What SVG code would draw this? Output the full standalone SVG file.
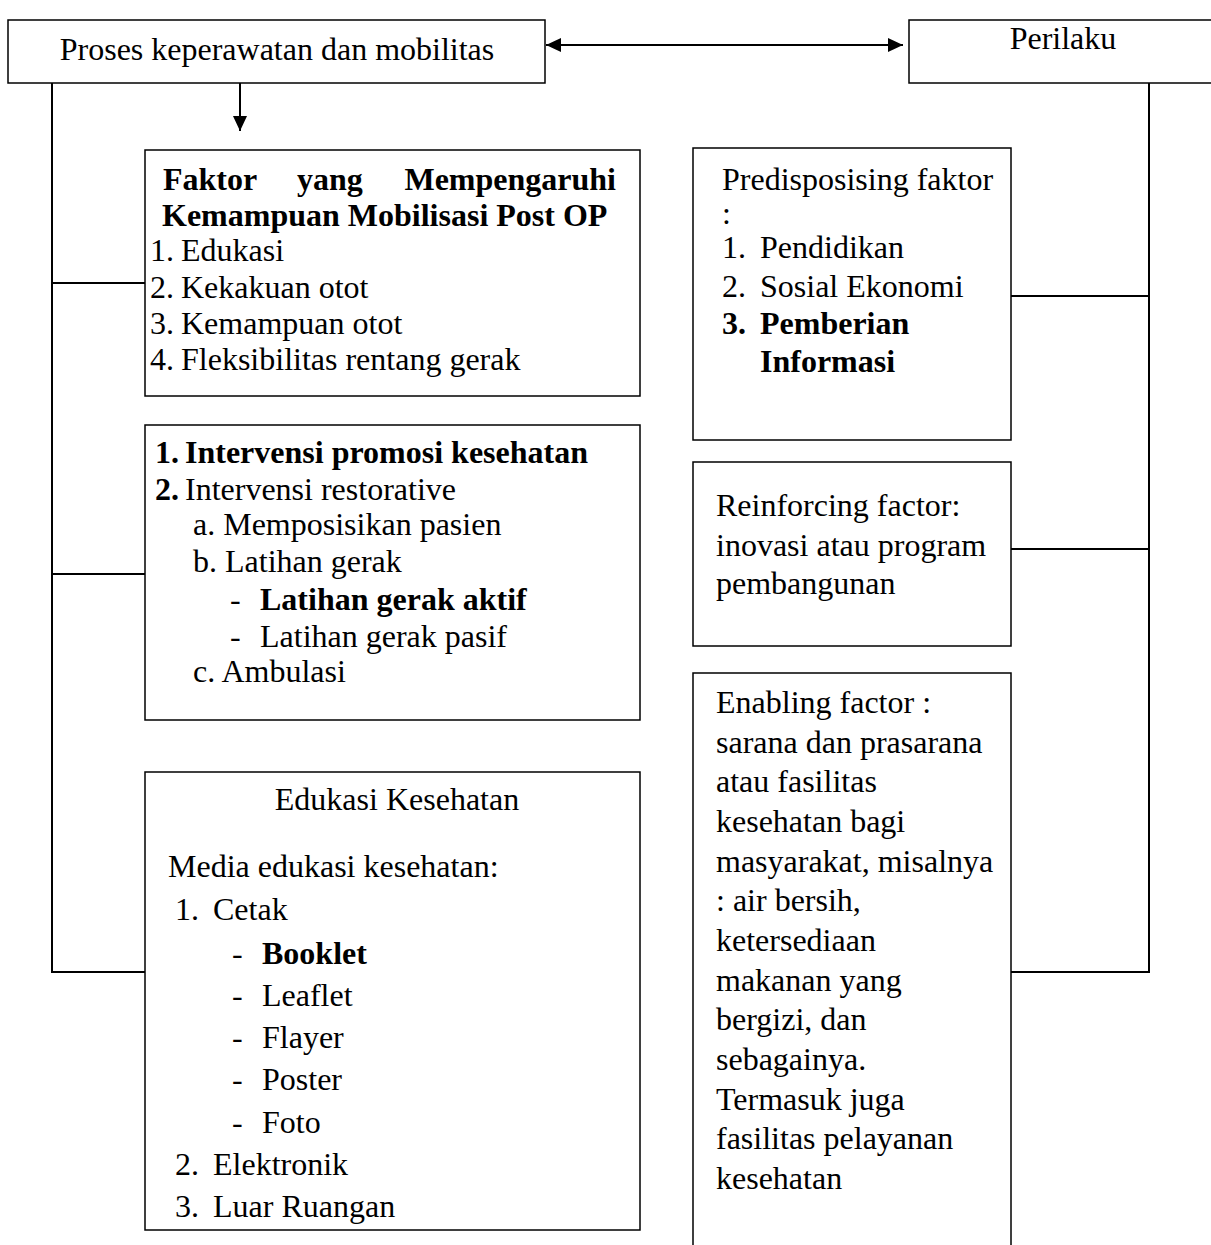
<svg xmlns="http://www.w3.org/2000/svg" width="1211" height="1245" viewBox="0 0 1211 1245">
<defs>
<style>
.box{fill:#fff;stroke:#000;stroke-width:1.5}
.t{font-family:"Liberation Serif","Times New Roman",serif;font-size:32px;fill:#000}
.b{font-weight:bold}
.c{fill:none;stroke:#000;stroke-width:2}
</style>
<marker id="ah" viewBox="0 0 15 14" refX="15" refY="7" markerWidth="15" markerHeight="14" markerUnits="userSpaceOnUse" orient="auto-start-reverse">
<path d="M0,0 L15,7 L0,14 z" fill="#000"/>
</marker>
</defs>
<rect width="1211" height="1245" fill="#fff"/>
<g id="connectors">
<line class="c" x1="546" y1="45" x2="903" y2="45" marker-start="url(#ah)" marker-end="url(#ah)"/>
<line class="c" x1="240" y1="83" x2="240" y2="131" marker-end="url(#ah)"/>
<path class="c" d="M52,83 V972 H145 M52,283 H145 M52,574 H145"/>
<path class="c" d="M1149,83 V972 H1011 M1011,296 H1149 M1011,549 H1149"/>
</g>
<g id="proses">
<rect class="box" x="8" y="20" width="537" height="63"/>
<text class="t" x="277" y="60" text-anchor="middle">Proses keperawatan dan mobilitas</text>
</g>
<g id="perilaku">
<rect class="box" x="909" y="20" width="320" height="63"/>
<text class="t" x="1063" y="49" text-anchor="middle">Perilaku</text>
</g>
<g id="faktor">
<rect class="box" x="145" y="150" width="495" height="246"/>
<text class="t b" x="163" y="190">Faktor</text>
<text class="t b" x="297" y="190">yang</text>
<text class="t b" x="616" y="190" text-anchor="end">Mempengaruhi</text>
<text class="t b" x="162" y="226">Kemampuan Mobilisasi Post OP</text>
<text class="t" x="150" y="261">1.</text><text class="t" x="181" y="261">Edukasi</text>
<text class="t" x="150" y="298">2.</text><text class="t" x="181" y="298">Kekakuan otot</text>
<text class="t" x="150" y="334">3.</text><text class="t" x="181" y="334">Kemampuan otot</text>
<text class="t" x="150" y="370">4.</text><text class="t" x="181" y="370">Fleksibilitas rentang gerak</text>
</g>
<g id="intervensi">
<rect class="box" x="145" y="425" width="495" height="295"/>
<text class="t b" x="155" y="463">1.</text><text class="t b" x="185" y="463">Intervensi promosi kesehatan</text>
<text class="t b" x="155" y="500">2.</text><text class="t" x="185" y="500">Intervensi restorative</text>
<text class="t" x="193" y="535">a. Memposisikan pasien</text>
<text class="t" x="193" y="572">b. Latihan gerak</text>
<text class="t" x="230" y="610">-</text><text class="t b" x="260" y="610">Latihan gerak aktif</text>
<text class="t" x="230" y="647">-</text><text class="t" x="260" y="647">Latihan gerak pasif</text>
<text class="t" x="193" y="682">c. Ambulasi</text>
</g>
<g id="edukasi">
<rect class="box" x="145" y="772" width="495" height="458"/>
<text class="t" x="397" y="810" text-anchor="middle">Edukasi Kesehatan</text>
<text class="t" x="168" y="877">Media edukasi kesehatan:</text>
<text class="t" x="175" y="920">1.</text><text class="t" x="213" y="920">Cetak</text>
<text class="t" x="232" y="964">-</text><text class="t b" x="262" y="964">Booklet</text>
<text class="t" x="232" y="1006">-</text><text class="t" x="262" y="1006">Leaflet</text>
<text class="t" x="232" y="1048">-</text><text class="t" x="262" y="1048">Flayer</text>
<text class="t" x="232" y="1090">-</text><text class="t" x="262" y="1090">Poster</text>
<text class="t" x="232" y="1133">-</text><text class="t" x="262" y="1133">Foto</text>
<text class="t" x="175" y="1175">2.</text><text class="t" x="213" y="1175">Elektronik</text>
<text class="t" x="175" y="1217">3.</text><text class="t" x="213" y="1217">Luar Ruangan</text>
</g>
<g id="predisposing">
<rect class="box" x="693" y="148" width="318" height="292"/>
<text class="t" x="722" y="190">Predisposising faktor</text>
<text class="t" x="722" y="224">:</text>
<text class="t" x="722" y="258">1.</text><text class="t" x="760" y="258">Pendidikan</text>
<text class="t" x="722" y="297">2.</text><text class="t" x="760" y="297">Sosial Ekonomi</text>
<text class="t b" x="722" y="334">3.</text><text class="t b" x="760" y="334">Pemberian</text>
<text class="t b" x="760" y="372">Informasi</text>
</g>
<g id="reinforcing">
<rect class="box" x="693" y="462" width="318" height="184"/>
<text class="t" x="716" y="516">Reinforcing factor:</text>
<text class="t" x="716" y="556">inovasi atau program</text>
<text class="t" x="716" y="594">pembangunan</text>
</g>
<g id="enabling">
<rect class="box" x="693" y="673" width="318" height="620"/>
<text class="t" x="716" y="713">Enabling factor :</text>
<text class="t" x="716" y="753">sarana dan prasarana</text>
<text class="t" x="716" y="792">atau fasilitas</text>
<text class="t" x="716" y="832">kesehatan bagi</text>
<text class="t" x="716" y="872">masyarakat, misalnya</text>
<text class="t" x="716" y="911">: air bersih,</text>
<text class="t" x="716" y="951">ketersediaan</text>
<text class="t" x="716" y="991">makanan yang</text>
<text class="t" x="716" y="1030">bergizi, dan</text>
<text class="t" x="716" y="1070">sebagainya.</text>
<text class="t" x="716" y="1110">Termasuk juga</text>
<text class="t" x="716" y="1149">fasilitas pelayanan</text>
<text class="t" x="716" y="1189">kesehatan</text>
</g>
</svg>
